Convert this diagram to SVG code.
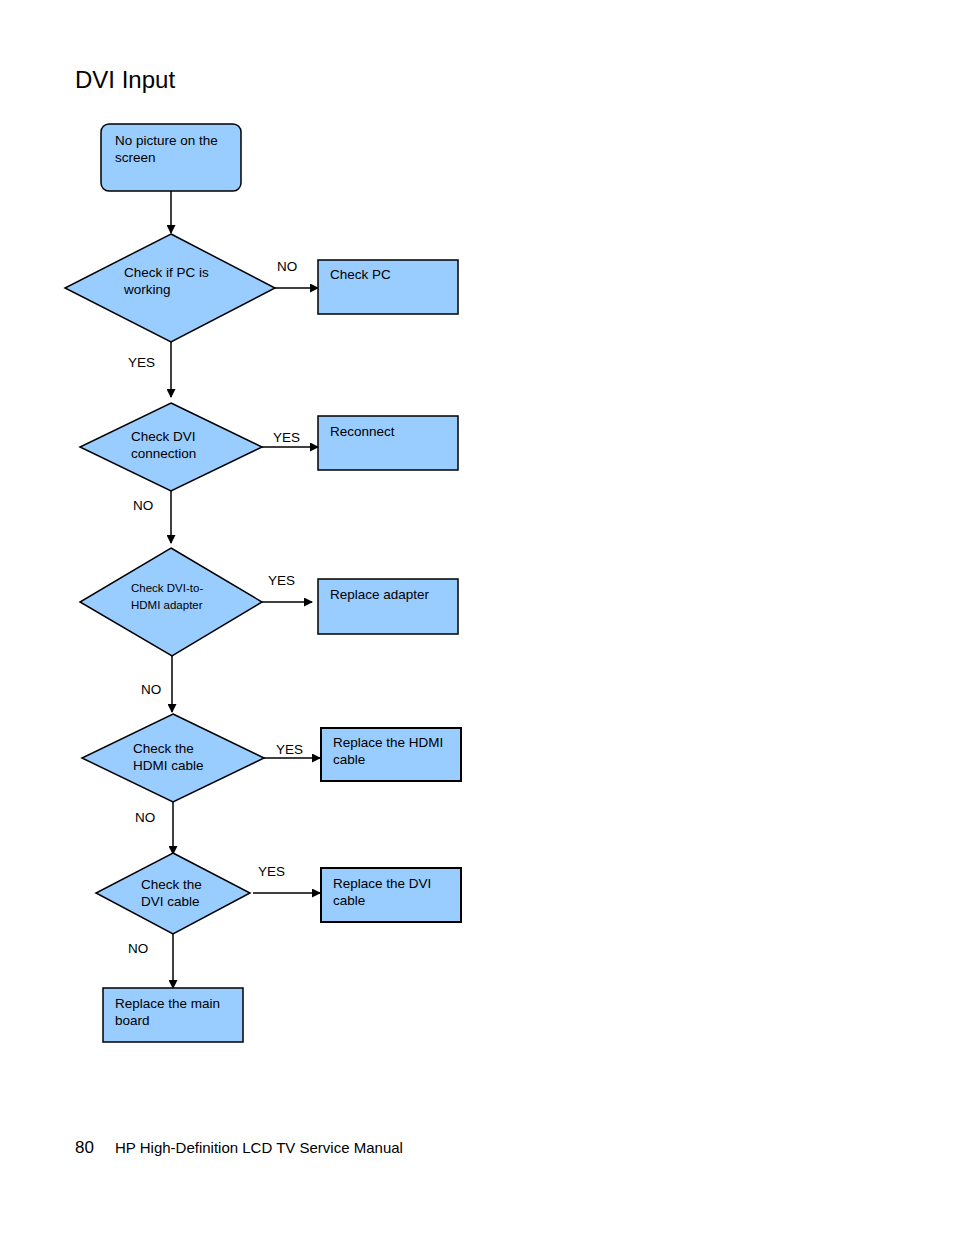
<svg xmlns="http://www.w3.org/2000/svg" width="954" height="1235" viewBox="0 0 954 1235">
<style>
.n{fill:#99ccff;stroke:#000;stroke-width:1.5}
.b{fill:#99ccff;stroke:#000;stroke-width:2}
.t{font-family:"Liberation Sans",Arial,sans-serif;font-size:13.5px;fill:#000}
.s{font-family:"Liberation Sans",Arial,sans-serif;font-size:11.5px;fill:#000}
.l{font-family:"Liberation Sans",Arial,sans-serif;font-size:13.5px;fill:#000}
.c{stroke:#000;stroke-width:1.5;fill:none;marker-end:url(#a)}
</style>
<defs>
<marker id="a" markerWidth="9" markerHeight="9" refX="8" refY="4.5" orient="auto" markerUnits="userSpaceOnUse">
<path d="M0,0 L9,4.5 L0,9 Z" fill="#000"/>
</marker>
</defs>
<rect width="954" height="1235" fill="#fff"/>
<text x="75" y="88" font-family="Liberation Sans,Arial,sans-serif" font-size="24" fill="#000">DVI Input</text>

<g id="connectors">
<line class="c" x1="171" y1="191" x2="171" y2="233"/>
<line class="c" x1="275" y1="288" x2="318" y2="288"/>
<line class="c" x1="171" y1="342" x2="171" y2="397"/>
<line class="c" x1="262" y1="447" x2="318" y2="447"/>
<line class="c" x1="171" y1="491" x2="171" y2="543"/>
<line class="c" x1="262" y1="602" x2="312" y2="602"/>
<line class="c" x1="172" y1="656" x2="172" y2="712"/>
<line class="c" x1="264" y1="758" x2="320" y2="758"/>
<line class="c" x1="173" y1="802" x2="173" y2="854"/>
<line class="c" x1="253" y1="893" x2="320" y2="893"/>
<line class="c" x1="173" y1="934" x2="173" y2="988"/>
<text class="l" x="277" y="271">NO</text>
<text class="l" x="128" y="367">YES</text>
<text class="l" x="273" y="442">YES</text>
<text class="l" x="133" y="510">NO</text>
<text class="l" x="268" y="585">YES</text>
<text class="l" x="141" y="694">NO</text>
<text class="l" x="276" y="754">YES</text>
<text class="l" x="135" y="822">NO</text>
<text class="l" x="258" y="876">YES</text>
<text class="l" x="128" y="953">NO</text>
</g>

<g id="start">
<rect class="n" x="101" y="124" width="140" height="67" rx="8"/>
<text class="t" x="115" y="145">No picture on the</text>
<text class="t" x="115" y="162">screen</text>
</g>
<g id="d1">
<polygon class="n" points="171,234 275,288 171,342 65,288"/>
<text class="t" x="124" y="277">Check if PC is</text>
<text class="t" x="124" y="294">working</text>
</g>
<g id="checkpc">
<rect class="n" x="318" y="260" width="140" height="54"/>
<text class="t" x="330" y="279">Check PC</text>
</g>
<g id="d2">
<polygon class="n" points="171,403 262,447 171,491 80,447"/>
<text class="t" x="131" y="441">Check DVI</text>
<text class="t" x="131" y="458">connection</text>
</g>
<g id="reconnect">
<rect class="n" x="318" y="416" width="140" height="54"/>
<text class="t" x="330" y="436">Reconnect</text>
</g>
<g id="d3">
<polygon class="n" points="171,548 262,602 172,656 80,602"/>
<text class="s" x="131" y="592">Check DVI-to-</text>
<text class="s" x="131" y="609">HDMI adapter</text>
</g>
<g id="adapter">
<rect class="n" x="318" y="579" width="140" height="55"/>
<text class="t" x="330" y="599">Replace adapter</text>
</g>
<g id="d4">
<polygon class="n" points="173,714 264,758 173,802 82,758"/>
<text class="t" x="133" y="753">Check the</text>
<text class="t" x="133" y="770">HDMI cable</text>
</g>
<g id="hdmi">
<rect class="b" x="321" y="728" width="140" height="53"/>
<text class="t" x="333" y="747">Replace the HDMI</text>
<text class="t" x="333" y="764">cable</text>
</g>
<g id="d5">
<polygon class="n" points="173,853 250,893 173,934 96,893"/>
<text class="t" x="141" y="889">Check the</text>
<text class="t" x="141" y="906">DVI cable</text>
</g>
<g id="dvi">
<rect class="b" x="321" y="868" width="140" height="54"/>
<text class="t" x="333" y="888">Replace the DVI</text>
<text class="t" x="333" y="905">cable</text>
</g>
<g id="mainboard">
<rect class="n" x="103" y="988" width="140" height="54"/>
<text class="t" x="115" y="1008">Replace the main</text>
<text class="t" x="115" y="1025">board</text>
</g>

<text x="75" y="1153" font-family="Liberation Sans,Arial,sans-serif" font-size="17" fill="#000">80</text>
<text x="115" y="1153" font-family="Liberation Sans,Arial,sans-serif" font-size="15" fill="#000">HP High-Definition LCD TV Service Manual</text>
</svg>
